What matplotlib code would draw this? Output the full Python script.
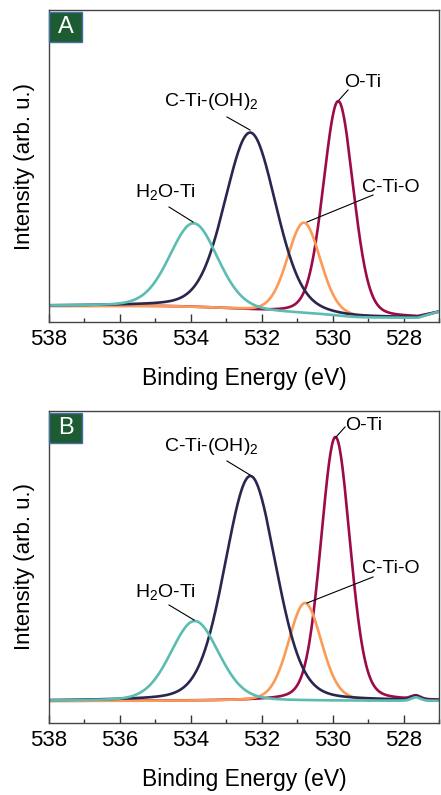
import numpy as np
import matplotlib
matplotlib.use("Agg")
import matplotlib.pyplot as plt
from matplotlib.patches import Rectangle
from matplotlib.ticker import MultipleLocator

plt.rcParams['font.family'] = ['Liberation Sans', 'DejaVu Sans']
plt.rcParams['mathtext.fontset'] = 'custom'
plt.rcParams['mathtext.rm'] = 'Liberation Sans'
plt.rcParams['mathtext.default'] = 'regular'

# ---------------- data ----------------
components = ["O-Ti", "C-Ti-O", "C-Ti-(OH)$_2$", "H$_2$O-Ti"]
colors = ["#9c0b47", "#fb9b55", "#2a2650", "#5bbdb1"]

# panel A fitted peaks
centers_A = [529.84, 530.81, 532.32, 533.92]
heights_A = [215, 91, 178, 84]
fwhm_A = [1.0, 1.1, 1.7, 1.6]
bg_high_A, bg_low_A = 16, 4
tail_A = (527.0, 10.5)          # last data point at the low-BE end

# panel B fitted peaks
centers_B = [529.92, 530.78, 532.32, 533.89]
heights_B = [264, 98, 225, 80]
fwhm_B = [0.97, 1.1, 1.7, 1.6]
bg_high_B, bg_low_B = 22, 22
bump_B = (527.65, 3.5, 0.3)     # small feature in background

xticks = [538, 536, 534, 532, 530, 528]
lorentz_frac = 0.2


def pv(E, c, h, w):
    g = np.exp(-4 * np.log(2) * ((E - c) / w) ** 2)
    l = 1.0 / (1 + 4 * ((E - c) / w) ** 2)
    return h * ((1 - lorentz_frac) * g + lorentz_frac * l)


def build(centers, heights, fwhm, hi, lo, e_end, bump=None):
    E = np.arange(e_end, 538.0001, 0.02)  # ascending
    peaks = [pv(E, c, h, w) for c, h, w in zip(centers, heights, fwhm)]
    tot = np.sum(peaks, axis=0)
    cum = np.concatenate([[0], np.cumsum((tot[1:] + tot[:-1]) / 2 * np.diff(E))])
    bg = lo + (hi - lo) * cum / cum[-1]
    if bump is not None:
        bg = bg + pv(E, *bump)
    return E, [bg + p for p in peaks]


# pixel->data helpers for annotation placement
def ex(xpx):
    return 538 - (xpx - 49) / 35.45

# annotation: (label, text_left_px, text_baseline_px, line_start_px, line_end_px)
ann_A = [
    ("C-Ti-(OH)$_2$", 164, 106, (227, 117), (250, 130)),
    ("O-Ti", 344, 87, (348, 90), (339, 100)),
    ("H$_2$O-Ti", 135, 197, (169, 207), (193, 222)),
    ("C-Ti-O", 362, 192, (373, 195), (307, 222)),
]
ann_B = [
    ("C-Ti-(OH)$_2$", 164, 451, (227, 461), (250, 475)),
    ("O-Ti", 345, 430, (345, 427), (336, 437)),
    ("H$_2$O-Ti", 135, 597, (169, 605), (194, 620)),
    ("C-Ti-O", 362, 573, (373, 577), (307, 603)),
]

fig = plt.figure(figsize=(4.41, 7.95), dpi=100)
W, H = 441, 795

panels = [
    ("A", 10, 322, build(centers_A, heights_A, fwhm_A, bg_high_A, bg_low_A, 527.6), tail_A, ann_A),
    ("B", 411, 723, build(centers_B, heights_B, fwhm_B, bg_high_B, bg_low_B, 527.0, bump_B), None, ann_B),
]

for label, top, bot, (E, curves), tail, anns in panels:
    ax = fig.add_axes([49 / W, (H - bot) / H, 390 / W, (bot - top) / H])
    for y, col in zip(curves, colors):
        xs, ys = E, y
        if tail is not None:
            xs = np.concatenate([[tail[0]], E])
            ys = np.concatenate([[tail[1]], y])
        ax.plot(xs, ys, color=col, lw=1.9, solid_joinstyle='round')
    ax.set_xlim(538, 527)
    ax.set_ylim(0, bot - top)
    ax.set_yticks([])
    ax.set_xticks(xticks)
    ax.xaxis.set_minor_locator(MultipleLocator(1))
    ax.tick_params(axis='x', which='major', direction='in', length=6, width=1,
                   labelsize=16, pad=5, colors='#333333', labelcolor='black')
    ax.tick_params(axis='x', which='minor', direction='in', length=3, width=1,
                   colors='#333333')
    for s in ax.spines.values():
        s.set_color('#444444')
        s.set_linewidth(1.0)
    ax.set_xlabel("Binding Energy (eV)", fontsize=16.5, labelpad=12)
    ax.set_ylabel("Intensity (arb. u.)", fontsize=16, labelpad=10)

    # panel letter box
    ax.add_patch(Rectangle((0, 1 - 31.7 / 312), 33 / 390, 30 / 312,
                           transform=ax.transAxes, facecolor="#1d5b33",
                           edgecolor="#4a6fa5", lw=1, zorder=5, clip_on=False))
    ax.text(16.5 / 390, 1 - 16.7 / 312, label, transform=ax.transAxes,
            color="white", fontsize=17, ha='center', va='center', zorder=6)

    for txt, lx, by, p0, p1 in anns:
        ax.text(ex(lx), bot - by, txt, fontsize=14, ha='left', va='baseline')
        ax.plot([ex(p0[0]), ex(p1[0])], [bot - p0[1], bot - p1[1]],
                color='black', lw=0.8)

fig.savefig("out.png", dpi=100)
